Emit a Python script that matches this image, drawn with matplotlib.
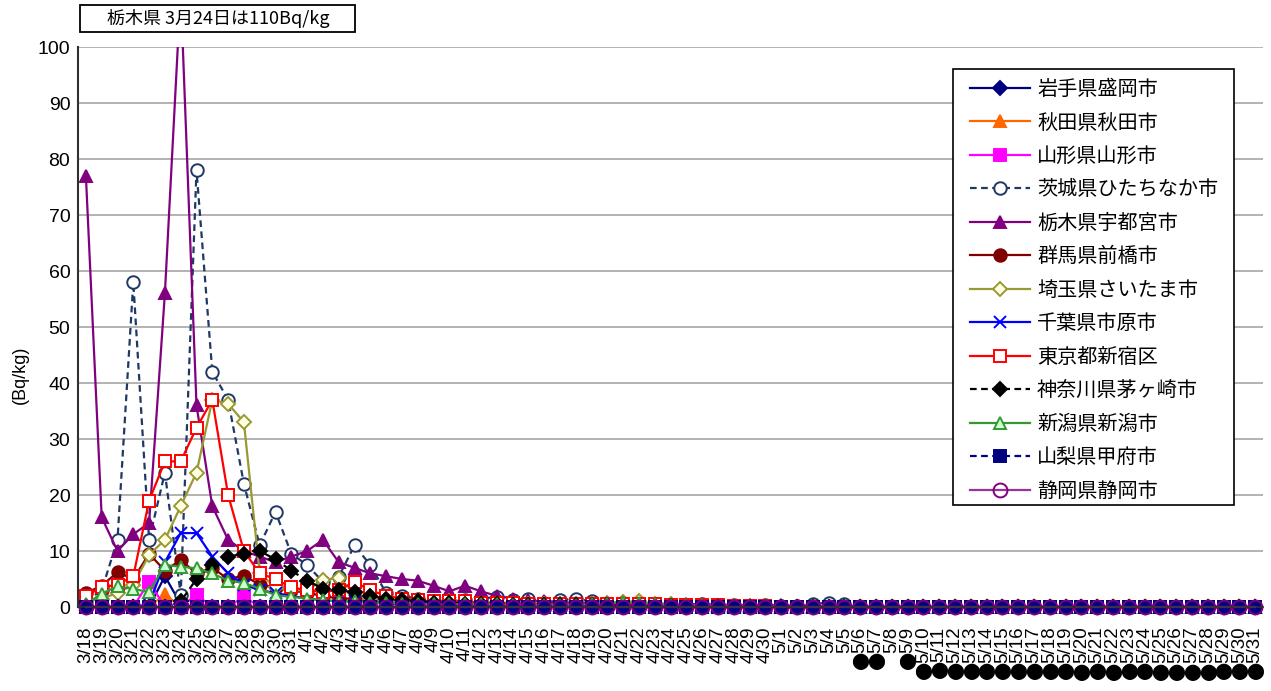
import matplotlib
matplotlib.use("Agg")
import matplotlib.pyplot as plt
from matplotlib.patches import Rectangle
from matplotlib.transforms import Bbox, TransformedBbox

plt.rcParams['font.family'] = ['Liberation Sans', 'Noto Sans CJK JP', 'DejaVu Sans']

# ---------------- data ----------------
dates = [
    "3/18", "3/19", "3/20", "3/21", "3/22", "3/23", "3/24", "3/25", "3/26", "3/27",
    "3/28", "3/29", "3/30", "3/31",
    "4/1", "4/2", "4/3", "4/4", "4/5", "4/6", "4/7", "4/8", "4/9", "4/10",
    "4/11", "4/12", "4/13", "4/14", "4/15", "4/16", "4/17", "4/18", "4/19", "4/20",
    "4/21", "4/22", "4/23", "4/24", "4/25", "4/26", "4/27", "4/28", "4/29", "4/30",
    "5/1", "5/2", "5/3", "5/4", "5/5", "⬤5/6", "⬤5/7", "5/8", "⬤5/9", "⬤5/10",
    "⬤5/11", "⬤5/12", "⬤5/13", "⬤5/14", "⬤5/15", "⬤5/16", "⬤5/17", "⬤5/18", "⬤5/19", "⬤5/20",
    "⬤5/21", "⬤5/22", "⬤5/23", "⬤5/24", "⬤5/25", "⬤5/26", "⬤5/27", "⬤5/28", "⬤5/29", "⬤5/30",
    "⬤5/31",
]

iwate = [0, 0, 0, 0, 0, 5.5, 0.5, 0, 0, 0, 0, 0, 0, 0,
         0, 0, 0, 0, 0, 0, 0, 0, 0, 0, 0, 0, 0, 0, 0, 0,
         0, 0, 0, 0, 0, 0, 0, 0, 0, 0, 0, 0, 0, 0, 0, 0,
         0, 0, 0, 0, 0, 0, 0, 0, 0, 0, 0, 0, 0, 0, 0, 0,
         0, 0, 0, 0, 0, 0, 0, 0, 0, 0, 0, 0, 0]
akita = [0, 0, 0, 0, 0, 2.3, 0, 0, 0, 0, 0, 0, 0, 0,
         0, 0, 0, 0, 0, 0, 0, 0, 0, 0, 0, 0, 0, 0, 0, 0,
         0, 0, 0, 0, 0, 0, 0, 0, 0, 0, 0, 0, 0, 0, 0, 0,
         0, 0, 0, 0, 0, 0, 0, 0, 0, 0, 0, 0, 0, 0, 0, 0,
         0, 0, 0, 0, 0, 0, 0, 0, 0, 0, 0, 0, 0]
yamagata = [0, 0, 0, 0, 4.5, 0, 0, 2.2, 0, 0, 1.9, 0, 0, 0,
            0, 0, 0, 0, 0, 0, 0, 0, 0, 0, 0, 0, 0, 0, 0, 0,
            0, 0, 0, 0, 0, 0, 0, 0, 0, 0, 0, 0, 0, 0, 0, 0,
            0, 0, 0, 0, 0, 0, 0, 0, 0, 0, 0, 0, 0, 0, 0, 0,
            0, 0, 0, 0, 0, 0, 0, 0, 0, 0, 0, 0, 0]
ibaraki = [1, 3, 12, 58, 12, 24, 2.2, 78, 42, 37, 22, 11, 17, 9.5,
           7.5, 4.5, 5.4, 11, 7.5, 2.5, 2, 1.5, 1, 1, 1.2, 1.5, 1.8, 1.2, 1.5, 0.8,
           1.2, 1.5, 1, 0.5, 0.8, 0.5, 0.5, 0.4, 0.3, 0.5, 0.3, 0.3, 0.2, 0.3,
           0.2, 0.2, 0.5, 0.8, 0.5, 0, 0, 0, 0, 0, 0, 0, 0, 0, 0, 0,
           0, 0, 0, 0, 0, 0, 0, 0, 0, 0, 0, 0, 0, 0, 0]
tochigi = [77, 16, 10, 13, 15, 56, 110, 36, 18, 12, 10, 9, 8, 9,
           10, 12, 8, 7, 6, 5.5, 5, 4.7, 3.8, 2.8, 3.8, 2.8, 2, 1.5, 1.2, 1,
           0.8, 0.8, 0.7, 0.6, 0.8, 0.7, 0.5, 0.6, 0.5, 0.5, 0.4, 0.4, 0.3, 0.3,
           0.3, 0.2, 0.2, 0, 0, 0, 0, 0, 0, 0, 0, 0, 0, 0, 0, 0,
           0, 0, 0, 0, 0, 0, 0, 0, 0, 0, 0, 0, 0, 0, 0]
gunma = [2.5, 3.8, 6.2, 5, 9.5, 6.5, 8.4, 6, 7, 5, 5.6, 4, 3.5, 3,
         2.5, 2, 1.5, 1.5, 1.2, 1, 1, 0.8, 0.8, 0.7, 0.6, 0.5, 0.5, 0.5, 0.5, 0.5,
         0.4, 0.4, 0.3, 0.3, 0.3, 0.3, 0.3, 0.2, 0.2, 0.2, 0.2, 0.2, 0.2, 0.2,
         0, 0, 0, 0, 0, 0, 0, 0, 0, 0, 0, 0, 0, 0, 0, 0,
         0, 0, 0, 0, 0, 0, 0, 0, 0, 0, 0, 0, 0, 0, 0]
saitama = [1, 1.5, 2.5, 4, 9.3, 12, 18, 24, 37, 36.3, 33, 6, 3.5, 3,
           3, 4.8, 5.2, 2.5, 1.5, 1.2, 1, 1, 0.8, 1, 0.8, 0.6, 0.5, 0.5, 0.5, 0.5,
           0.5, 0.5, 0.5, 0.8, 0.9, 1, 0.6, 0.5, 0.3, 0.2, 0.2, 0.2, 0.1, 0.1,
           0, 0, 0, 0, 0, 0, 0, 0, 0, 0, 0, 0, 0, 0, 0, 0,
           0, 0, 0, 0, 0, 0, 0, 0, 0, 0, 0, 0, 0, 0, 0]
chiba = [0, 0, 0, 0, 0.5, 8, 13.2, 13.2, 9, 6, 4, 3, 2.5, 2,
         1.5, 1.2, 1, 1, 0.8, 0.6, 0.5, 0.5, 0.4, 0.4, 0.3, 0.3, 0.3, 0.2, 0.2, 0.2,
         0.2, 0.1, 0.1, 0.1, 0, 0, 0, 0, 0, 0, 0, 0, 0, 0,
         0, 0, 0, 0, 0, 0, 0, 0, 0, 0, 0, 0, 0, 0, 0, 0,
         0, 0, 0, 0, 0, 0, 0, 0, 0, 0, 0, 0, 0, 0, 0]
tokyo = [2, 3.5, 4, 5.5, 19, 26, 26, 32, 37, 20, 10, 6, 5, 3.5,
         3, 2.7, 3, 4.5, 3, 2, 1.5, 1.2, 1, 1, 1, 0.8, 0.8, 0.7, 0.6, 0.6,
         0.5, 0.5, 0.5, 0.5, 0.5, 0.6, 0.5, 0.4, 0.3, 0.3, 0.3, 0.2, 0.2, 0.2,
         0, 0, 0, 0, 0, 0, 0, 0, 0, 0, 0, 0, 0, 0, 0, 0,
         0, 0, 0, 0, 0, 0, 0, 0, 0, 0, 0, 0, 0, 0, 0]
kanagawa = [0, 0, 0, 0, 0, 0, 1, 5, 7.5, 9, 9.5, 10, 8.5, 6.5,
            4.7, 3.3, 3, 2.6, 2, 1.5, 1.2, 1, 0.8, 0.8, 0.6, 0.5, 0.5, 0.4, 0.4, 0.4,
            0.3, 0.3, 0.3, 0.3, 0.2, 0.2, 0.2, 0.2, 0, 0, 0, 0, 0, 0,
            0, 0, 0, 0, 0, 0, 0, 0, 0, 0, 0, 0, 0, 0, 0, 0,
            0, 0, 0, 0, 0, 0, 0, 0, 0, 0, 0, 0, 0, 0, 0]
niigata = [0.5, 2.4, 3.7, 3.2, 2.7, 7.5, 7.2, 6.9, 6, 4.7, 4.3, 3.3, 2.1, 1.8,
           1.5, 1.2, 1, 1, 0.8, 0.7, 0.6, 0.6, 0.5, 0.5, 0.5, 0.5, 0.5, 0.4, 0.4, 0.4,
           0.4, 0.4, 0.5, 0.6, 0.9, 0.8, 0.5, 0.4, 0.3, 0.3, 0.2, 0.2, 0.2, 0.2,
           0, 0, 0, 0, 0, 0, 0, 0, 0, 0, 0, 0, 0, 0, 0, 0,
           0, 0, 0, 0, 0, 0, 0, 0, 0, 0, 0, 0, 0, 0, 0]
yamanashi = [0, 0, 0, 0, 0, 0, 0, 0, 0, 0, 0, 0, 0, 0,
             0, 0, 0, 0, 0, 0, 0, 0, 0, 0, 0, 0, 0, 0, 0, 0,
             0, 0, 0, 0, 0, 0, 0, 0, 0, 0, 0, 0, 0, 0, 0, 0,
             0, 0, 0, 0, 0, 0, 0, 0, 0, 0, 0, 0, 0, 0, 0, 0,
             0, 0, 0, 0, 0, 0, 0, 0, 0, 0, 0, 0, 0]
shizuoka = [0, 0, 0, 0, 0, 0, 0, 0, 0, 0, 0, 0, 0, 0,
            0, 0, 0, 0, 0, 0, 0, 0, 0, 0, 0, 0, 0, 0, 0, 0,
            0, 0, 0, 0, 0, 0, 0, 0, 0, 0, 0, 0, 0, 0, 0, 0,
            0, 0, 0, 0, 0, 0, 0, 0, 0, 0, 0, 0, 0, 0, 0, 0,
            0, 0, 0, 0, 0, 0, 0, 0, 0, 0, 0, 0, 0]

names = ["岩手県盛岡市", "秋田県秋田市", "山形県山形市", "茨城県ひたちなか市", "栃木県宇都宮市",
         "群馬県前橋市", "埼玉県さいたま市", "千葉県市原市", "東京都新宿区", "神奈川県茅ヶ崎市",
         "新潟県新潟市", "山梨県甲府市", "静岡県静岡市"]
series = [iwate, akita, yamagata, ibaraki, tochigi, gunma, saitama, chiba, tokyo,
          kanagawa, niigata, yamanashi, shizuoka]

title_note = "栃木県 3月24日は110Bq/kg"

# ---------------- styles ----------------
dash = (0, (3, 2))
styles = [
    dict(color='#000080', ls='-', marker='D', ms=7, mfc='#000080', mec='#000080'),
    dict(color='#FF6600', ls='-', marker='^', ms=8, mfc='#FF6600', mec='#FF6600'),
    dict(color='#FF00FF', ls='-', marker='s', ms=8, mfc='#FF00FF', mec='#FF00FF'),
    dict(color='#1F3864', ls=dash, marker='o', ms=9, mfc='white', mec='#1F3864'),
    dict(color='#800080', ls='-', marker='^', ms=9, mfc='#800080', mec='#800080'),
    dict(color='#800000', ls='-', marker='o', ms=9, mfc='#800000', mec='#800000'),
    dict(color='#999933', ls='-', marker='D', ms=7, mfc='#FFFFE0', mec='#999933'),
    dict(color='#0000FF', ls='-', marker='x', ms=9, mfc='#0000FF', mec='#0000FF'),
    dict(color='#FF0000', ls='-', marker='s', ms=9, mfc='white', mec='#FF0000'),
    dict(color='#000000', ls=dash, marker='D', ms=7, mfc='#000000', mec='#000000'),
    dict(color='#339933', ls='-', marker='^', ms=9, mfc='#CCFFCC', mec='#339933'),
    dict(color='#000080', ls=dash, marker='s', ms=9, mfc='#000080', mec='#000080'),
    dict(color='#993399', ls='-', marker='o', ms=10, mfc='none', mec='#800080'),
]

W, H = 1271, 691
fig = plt.figure(figsize=(W / 100, H / 100), dpi=100)
ax = fig.add_axes([78 / W, 1 - 607 / H, (1263 - 78) / W, (607 - 47) / H])

x = list(range(len(dates)))
clip = TransformedBbox(Bbox([[-0.5, -12], [74.5, 100]]), ax.transData)
for name, vals, st in zip(names, series, styles):
    line, = ax.plot(x, vals, label=name, lw=1.6, linestyle=st['ls'], color=st['color'],
                    marker=st['marker'], markersize=st['ms'], markerfacecolor=st['mfc'],
                    markeredgecolor=st['mec'], markeredgewidth=1.4)
    line.set_clip_path(None)
    line.set_clip_box(clip)

ax.set_xlim(-0.5, len(dates) - 0.5)
ax.set_ylim(0, 100)
ax.set_yticks(range(0, 101, 10))
ax.set_xticks(x)
plain_dates = [d.replace("⬤", "") for d in dates]
ax.set_xticklabels(plain_dates, rotation=90, fontsize=13.5)
ax.tick_params(axis='x', length=0, pad=14)
ax.tick_params(axis='y', length=0, pad=5.5, labelsize=14)
ax.yaxis.grid(True, color='#a6a6a6', lw=1.2)
ax.set_axisbelow(True)
for s in ['top', 'right']:
    ax.spines[s].set_visible(False)
ax.spines['left'].set_color('#303030')
ax.spines['left'].set_linewidth(1.5)
ax.spines['bottom'].set_color('#303030')
ax.spines['bottom'].set_linewidth(1.2)

fig.text(20 / W, 1 - 375 / H, "(Bq/kg)", rotation=90, ha='center', va='center', fontsize=13)

# annotation box
fig.patches.append(Rectangle((80 / W, 1 - 32 / H), 275 / W, 27 / H, transform=fig.transFigure,
                             facecolor='white', edgecolor='black', lw=1.3))
fig.text(218 / W, 1 - 19 / H, title_note, ha='center', va='center', fontsize=13,
         family=['Noto Sans CJK JP', 'DejaVu Sans'])

# legend: frame drawn as its own rectangle, entries placed inside
ax.add_patch(Rectangle((953 / W, 1 - 505 / H), (1234 - 953) / W, (505 - 69) / H,
                       transform=fig.transFigure, facecolor='white', edgecolor='black',
                       lw=1.2, zorder=4.9, clip_on=False))
leg = ax.legend(loc='upper left', bbox_to_anchor=(970 / W, 1 - 79 / H),
                bbox_transform=fig.transFigure, borderaxespad=0, borderpad=0,
                frameon=False, numpoints=1, handlelength=2.98,
                handletextpad=0.35, labelspacing=0.62,
                prop={'family': ['Noto Sans CJK JP', 'DejaVu Sans'], 'size': 14.5})
leg.set_zorder(5)

# the reference shows black dots under several May tick labels
fig.canvas.draw()
renderer = fig.canvas.get_renderer()
for lab, d in zip(ax.get_xticklabels(), dates):
    if d.startswith("⬤"):
        bb = lab.get_window_extent(renderer)
        fig.text((bb.x0 + bb.x1) / 2 / W, (bb.y0 - 1) / H, "⬤", ha='center', va='top',
                 fontsize=11.5, family=['DejaVu Sans'])

fig.savefig("out.png", dpi=100)
